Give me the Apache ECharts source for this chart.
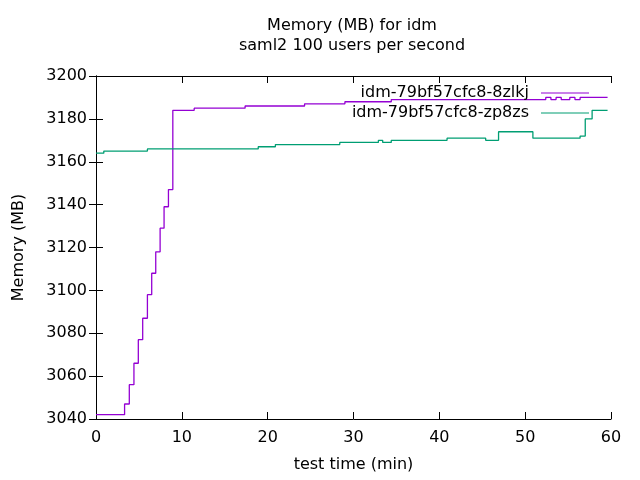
<!DOCTYPE html>
<html>
<head>
<meta charset="utf-8">
<script src="https://cdn.jsdelivr.net/npm/echarts@6/dist/echarts.min.js"></script>
<style>html,body{margin:0;padding:0;background:#fff}#c{width:640px;height:480px}</style>
</head>
<body>
<div id="c"></div>
<script>
// series 1: idm-79bf57cfc8-8zlkj  [time(min), memory(MB)] (step points)
const s1Name = "idm-79bf57cfc8-8zlkj";
const s1Time = [0, 3.33, 3.88, 4.42, 4.93, 5.44, 5.99, 6.49, 6.96, 7.47, 7.93, 8.44, 8.95, 11.44, 17.37, 24.3, 29.0, 34.4, 52.4, 53.0, 53.6, 54.2, 55.2, 55.8, 56.4, 59.6];
const s1Mem  = [3042, 3047, 3056, 3066, 3077, 3087, 3098, 3108, 3118, 3129, 3139, 3147, 3184, 3185, 3186, 3187, 3188, 3189, 3190, 3189, 3190, 3189, 3190, 3189, 3190, 3190];
// series 2: idm-79bf57cfc8-zp8zs
const s2Name = "idm-79bf57cfc8-zp8zs";
const s2Time = [0, 0.91, 5.99, 18.9, 20.9, 28.4, 32.9, 33.4, 34.4, 40.9, 45.4, 46.9, 50.9, 56.4, 57.0, 57.8, 59.6];
const s2Mem  = [3164, 3165, 3166, 3167, 3168, 3169, 3170, 3169, 3170, 3171, 3170, 3174, 3171, 3172, 3180, 3184, 3184];
const titleText = "Memory (MB) for idm";
const subText = "saml2 100 users per second";
const xName = "test time (min)";
const yName = "Memory (MB)";

const font = "DejaVu Sans";
const fs = 16;
const zip = (a, b) => a.map((v, i) => [v, b[i]]);
const chart = echarts.init(document.getElementById('c'), null, {renderer: 'canvas'});
const axisCommon = {
  axisLine: {show: true, lineStyle: {color: '#000', width: 1}},
  axisTick: {show: true, inside: true, length: 7, lineStyle: {color: '#000'}},
  splitLine: {show: false}
};
const legendCommon = {right: 51, padding: 0, align: 'right', itemWidth: 48, itemHeight: 1, icon: 'rect',
  textStyle: {fontFamily: font, fontSize: fs, color: '#000', padding: [0, 7, 0, 0]}, selectedMode: false};
chart.setOption({
  animation: false,
  backgroundColor: '#fff',
  title: [
    {text: titleText, left: 352, top: 18, textAlign: 'center', padding: 0, textStyle: {fontFamily: font, fontSize: fs, fontWeight: 'normal', color: '#000'}},
    {text: subText, left: 352, top: 38, textAlign: 'center', padding: 0, textStyle: {fontFamily: font, fontSize: fs, fontWeight: 'normal', color: '#000'}}
  ],
  grid: {left: 96, right: 29, top: 76, bottom: 61, containLabel: false},
  legend: [
    Object.assign({data: [s1Name], top: 85}, legendCommon),
    Object.assign({data: [s2Name], top: 105}, legendCommon)
  ],
  xAxis: [
    Object.assign({type: 'value', min: 0, max: 60, interval: 10, position: 'bottom',
      name: xName, nameLocation: 'middle', nameGap: 38,
      nameTextStyle: {fontFamily: font, fontSize: fs, color: '#000'},
      axisLabel: {fontFamily: font, fontSize: fs, color: '#000', margin: 11}}, axisCommon),
    Object.assign({type: 'value', min: 0, max: 60, interval: 10, position: 'top', axisLabel: {show: false}}, axisCommon)
  ],
  yAxis: [
    Object.assign({type: 'value', min: 3040, max: 3200, interval: 20, position: 'left',
      name: yName, nameLocation: 'middle', nameGap: 69, nameRotate: 90,
      nameTextStyle: {fontFamily: font, fontSize: fs, color: '#000'},
      axisLabel: {fontFamily: font, fontSize: fs, color: '#000', margin: 9, formatter: v => String(v)}}, axisCommon),
    Object.assign({type: 'value', min: 3040, max: 3200, interval: 20, position: 'right', axisLabel: {show: false}}, axisCommon)
  ],
  series: [
    {name: s1Name, type: 'line', step: 'end', symbol: 'none', data: zip(s1Time, s1Mem),
      itemStyle: {color: '#9400d3'}, lineStyle: {color: '#9400d3', width: 1.3}},
    {name: s2Name, type: 'line', step: 'end', symbol: 'none', data: zip(s2Time, s2Mem),
      itemStyle: {color: '#009e73'}, lineStyle: {color: '#009e73', width: 1.3}}
  ]
});
</script>
</body>
</html>
